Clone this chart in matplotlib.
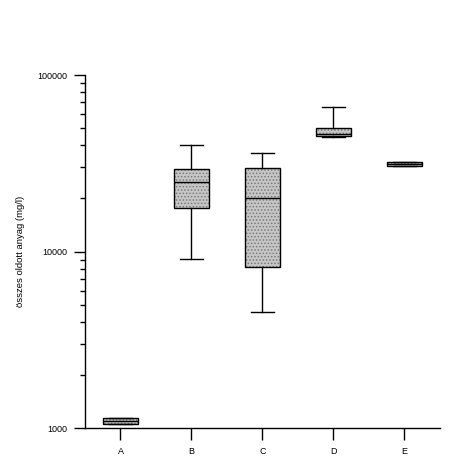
import matplotlib
matplotlib.use('Agg')
import matplotlib.pyplot as plt
from matplotlib.patches import PathPatch
from matplotlib.ticker import LogLocator, NullFormatter, FixedLocator

plt.rcParams['font.family'] = ['Liberation Sans', 'DejaVu Sans']
plt.rcParams['hatch.linewidth'] = 0.7

# box statistics (mg/l)
categories = ['A', 'B', 'C', 'D', 'E']
whislo = [1060, 9060, 4540, 44500, 30500]
q1 = [1060, 17600, 8170, 45100, 30500]
med = [1100, 24800, 20100, 46300, 31300]
q3 = [1140, 29300, 29600, 50100, 32100]
whishi = [1140, 40100, 36100, 65900, 32100]

stats = []
for i, c in enumerate(categories):
    stats.append({'label': c, 'whislo': whislo[i], 'q1': q1[i], 'med': med[i],
                  'q3': q3[i], 'whishi': whishi[i], 'fliers': []})

fig = plt.figure(figsize=(4.55, 4.59), dpi=100)
ax = fig.add_axes([0.1868, 0.0675, 0.7802, 0.7691])

bp = ax.bxp(stats, positions=range(1, 6), widths=0.5, capwidths=0.33,
            patch_artist=True, showfliers=False,
            medianprops={'color': 'black', 'linewidth': 1},
            whiskerprops={'color': 'black', 'linewidth': 1},
            capprops={'color': 'black', 'linewidth': 1})

# stippled fill, then a separate black outline on top
for box in bp['boxes']:
    box.set_facecolor('#c6c6c6')
    box.set_edgecolor('#7a7a7a')
    box.set_hatch('.....')
    box.set_linewidth(0)
    ax.add_patch(PathPatch(box.get_path(), fill=False, ec='black', lw=1, zorder=3))
for m in bp['medians']:
    m.set_zorder(4)

ax.set_yscale('log')
ax.set_ylim(1000, 100000)
ax.set_xlim(0.5, 5.5)
ax.yaxis.set_major_locator(FixedLocator([1000, 10000, 100000]))
ax.yaxis.set_major_formatter(plt.FuncFormatter(lambda v, p: '%d' % v))
ax.yaxis.set_minor_locator(LogLocator(base=10, subs=range(2, 10)))
ax.yaxis.set_minor_formatter(NullFormatter())

ax.spines['top'].set_visible(False)
ax.spines['right'].set_visible(False)
ax.spines['left'].set_linewidth(1)
ax.spines['bottom'].set_linewidth(1)

ax.tick_params(axis='y', which='major', length=8, width=1, pad=5, labelsize=6.5)
ax.tick_params(axis='y', which='minor', length=3.8, width=1)
ax.tick_params(axis='x', which='major', length=8.5, width=1, pad=5, labelsize=6.5)

ax.set_ylabel('összes oldott anyag (mg/l)', fontsize=6.8)
ax.yaxis.set_label_coords(-0.168, 0.50)

fig.savefig('out.png', dpi=100)
